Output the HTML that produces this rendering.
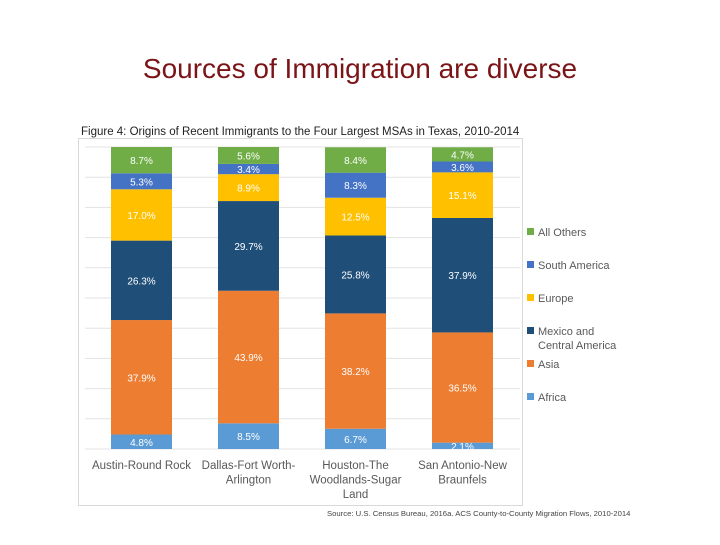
<!DOCTYPE html>
<html><head><meta charset="utf-8"><style>
body{margin:0;background:#fff;width:720px;height:540px;overflow:hidden;font-family:"Liberation Sans",sans-serif}
</style></head><body>
<svg width="720" height="540">
<text x="360" y="78" text-anchor="middle" font-size="28" fill="#7b1416">Sources of Immigration are diverse</text>
<text x="81" y="135" font-size="11.5" fill="#222">Figure 4: Origins of Recent Immigrants to the Four Largest MSAs in Texas, 2010-2014</text>
<rect x="78.5" y="138.5" width="444" height="367" fill="none" stroke="#d9d9d9"/>
<g id="grid"></g><g id="bars"></g><g id="legend"></g><g id="cats"></g>
<text x="327" y="516" font-size="7.7" fill="#444">Source: U.S. Census Bureau, 2016a. ACS County-to-County Migration Flows, 2010-2014</text>
</svg>
<script>
const categories=[["Austin-Round Rock"],["Dallas-Fort Worth-","Arlington"],["Houston-The","Woodlands-Sugar","Land"],["San Antonio-New","Braunfels"]];
const seriesNames=["Africa","Asia","Mexico and Central America","Europe","South America","All Others"];
const africa=[4.8,8.5,6.7,2.1];
const asia=[37.9,43.9,38.2,36.5];
const mexico=[26.3,29.7,25.8,37.9];
const europe=[17.0,8.9,12.5,15.1];
const southAmerica=[5.3,3.4,8.3,3.6];
const allOthers=[8.7,5.6,8.4,4.7];
const colors=["#5b9bd5","#ed7d31","#1f4e79","#ffc000","#4472c4","#70ad47"];
const series=[africa,asia,mexico,europe,southAmerica,allOthers];
const NS="http://www.w3.org/2000/svg";
const y0=449,y1=147,plotL=85,plotR=520;
function yv(v){return y0-(y0-y1)*v/100;}
function xc(i){return 141.5+i*107;}
function mk(t,a,p){const e=document.createElementNS(NS,t);for(const k in a)e.setAttribute(k,a[k]);p.appendChild(e);return e;}
const grid=document.getElementById('grid');
for(let g=0;g<=100;g+=10){const l=mk('line',{x1:plotL,x2:plotR,y1:yv(g),y2:yv(g),stroke:'#e3e3e3'},grid);

}
const bars=document.getElementById('bars');
for(let i=0;i<4;i++){let acc=0;
 series.forEach((s,j)=>{const v=s[i];const top=yv(acc+v),bot=yv(acc);
  const r=mk('rect',{x:xc(i)-30.5,y:top,width:61,height:bot-top,fill:colors[j]},bars);
  
  
  const t=mk('text',{x:xc(i),y:(top+bot)/2+4,'text-anchor':'middle','font-size':10,fill:'#fff'},bars);
  t.textContent=v.toFixed(1)+'%';
  
  
  acc+=v;});}
const cats=document.getElementById('cats');
categories.forEach((c,i)=>{c.forEach((ln,k)=>{const t=mk('text',{x:xc(i),y:469+k*14.5,'text-anchor':'middle','font-size':11.5,fill:'#595959'},cats);t.textContent=ln;

});});
const legend=document.getElementById('legend');
const legY=[397,364,331,298,265,232];
const legLines=[["Africa"],["Asia"],["Mexico and","Central America"],["Europe"],["South America"],["All Others"]];
legLines.forEach((ls,j)=>{const r=mk('rect',{x:527,y:legY[j]-4,width:7,height:7,fill:colors[j]},legend);


ls.forEach((ln,k)=>{const t=mk('text',{x:538,y:legY[j]+4+k*14,'font-size':11,fill:'#595959'},legend);t.textContent=ln;

});});
</script>
</body></html>
